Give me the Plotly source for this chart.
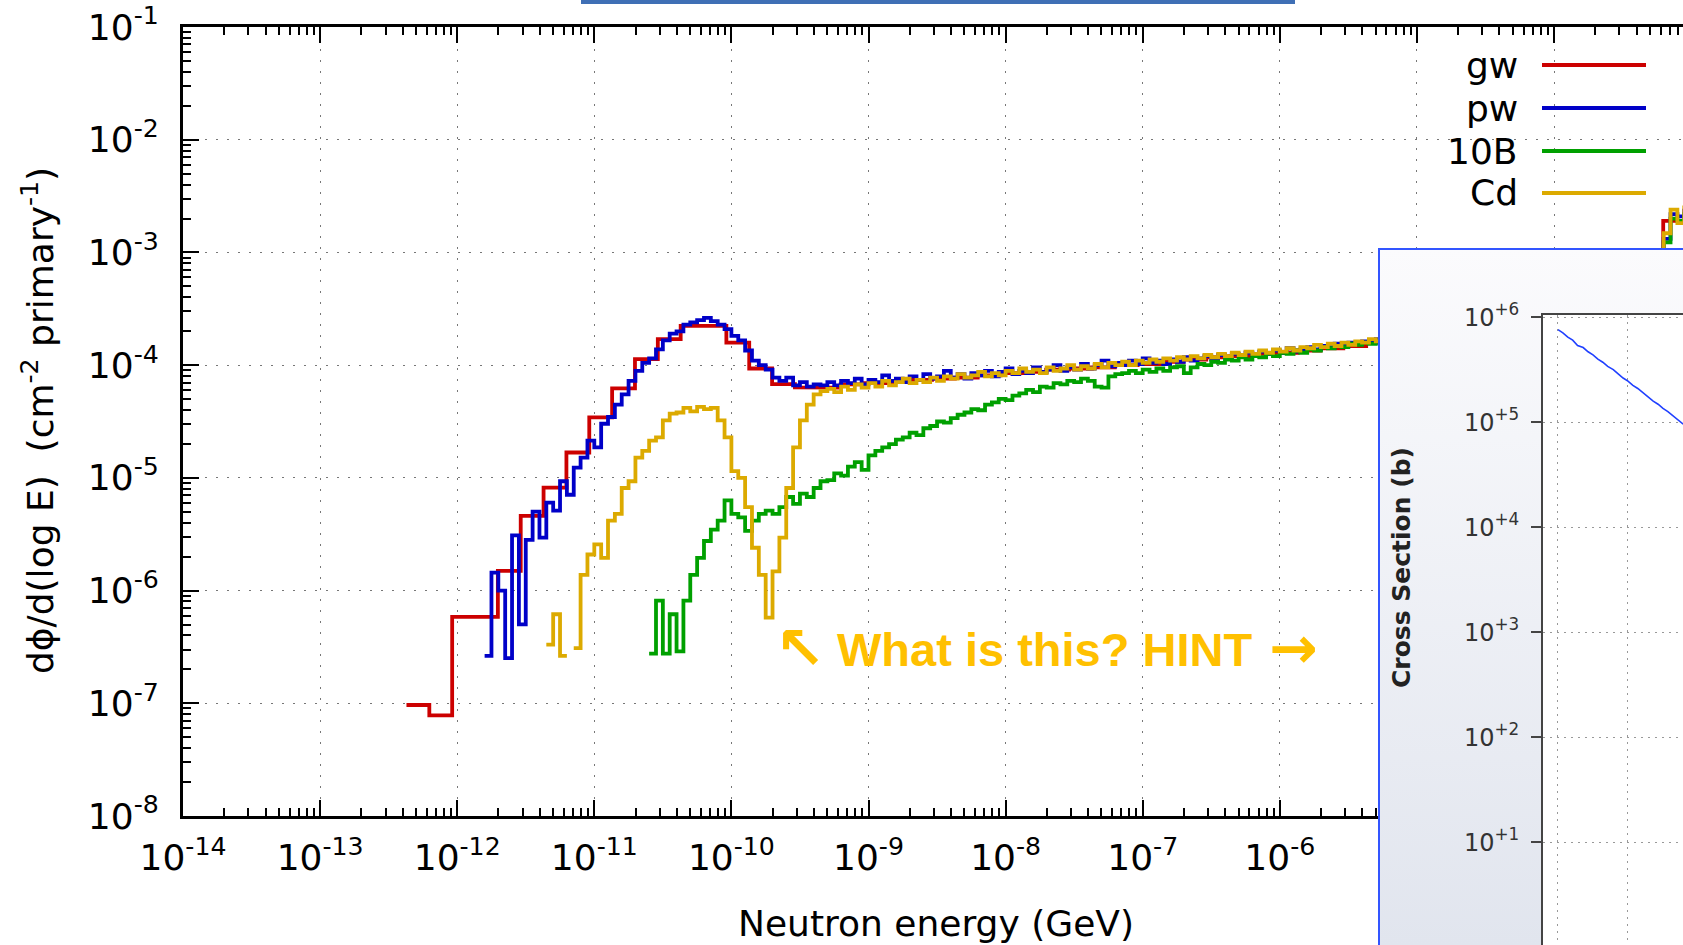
import plotly.graph_objects as go

W, H = 1683, 945


def px(x):
    return x / W


def py(y):
    return 1 - y / H


# ---------------- data (log10 of energy in GeV, log10 of flux) ----------------
bin_width = 0.05

# gw : coarse binning, 6 bins per decade
gw_start = -12.37
gw_step = 1 / 6
gw_vals = [
    -7.015, -7.107, -6.234, -6.234, -5.825, -5.337, -5.086, -4.775, -4.464, -4.207,
    -3.947, -3.769, -3.651, -3.651, -3.80, -4.03, -4.169, -4.198,
    -4.20, -4.17, -4.16, -4.15, -4.13, -4.12, -4.11, -4.09, -4.07, -4.06,
    -4.04, -4.03, -4.02, -4.00, -3.99, -3.97, -3.95, -3.93, -3.92, -3.90,
    -3.89, -3.87, -3.85, -3.83, -3.80, -3.78,
    -3.76, -3.73, -3.70, -3.66, -3.62, -3.57, -3.50, -3.40, -3.25, -3.10,
    -3.02, -2.72, -2.58,
]

# pw
pw_start = -11.80
pw_vals = [
    -6.58, -5.84, -6.00, -6.60, -5.51, -6.30, -5.55, -5.30, -5.53, -5.22,
    -5.29, -5.03, -5.15, -4.91, -4.82, -4.67, -4.73, -4.52, -4.46, -4.35,
    -4.26, -4.14, -4.05, -3.98, -3.94, -3.86, -3.78, -3.72, -3.70, -3.64,
    -3.62, -3.60, -3.58, -3.61, -3.64, -3.68, -3.74, -3.78, -3.87, -3.96,
    -4.00, -4.04, -4.11, -4.14, -4.11, -4.18, -4.15, -4.19, -4.17, -4.18,
    -4.15, -4.18, -4.14, -4.16, -4.12, -4.17, -4.13, -4.15, -4.09, -4.14,
    -4.12, -4.15, -4.10, -4.13, -4.08, -4.12, -4.10, -4.05, -4.11, -4.08,
    -4.12, -4.07, -4.09, -4.05, -4.10, -4.06, -4.03, -4.08, -4.05, -4.07,
    -4.02, -4.06, -4.04, -4.00, -4.05, -4.02, -4.04, -3.99, -4.03, -4.00,
    -3.96, -4.01, -3.98, -4.00, -3.96, -3.99, -3.94, -3.98, -3.96, -3.99,
    -3.95, -3.97, -3.93, -3.96, -3.94, -3.92, -3.95, -3.91, -3.93, -3.90,
    -3.92, -3.89, -3.91, -3.88, -3.90, -3.87, -3.89, -3.85, -3.88, -3.86,
    -3.84, -3.86, -3.83, -3.84, -3.81, -3.83, -3.80, -3.81, -3.79, -3.80,
    -3.77, -3.78, -3.76, -3.76, -3.75, -3.74, -3.74, -3.73, -3.72, -3.71,
    -3.70, -3.70, -3.69, -3.68, -3.67, -3.66, -3.65, -3.64, -3.63, -3.61,
    -3.60, -3.58, -3.56, -3.54, -3.52, -3.50, -3.47, -3.44, -3.41, -3.37,
    -3.33, -3.29, -3.24, -3.19, -3.14, -3.09, -3.06, -3.04, -3.03, -3.03,
    -3.04, -3.02, -2.88, -2.66, -2.68, -2.63,
]

# 10B
b10_start = -10.60
b10_vals = [
    -6.56, -6.09, -6.56, -6.21, -6.54, -6.09, -5.86, -5.71, -5.56, -5.46,
    -5.38, -5.20, -5.32, -5.35, -5.47, -5.38, -5.32, -5.29, -5.32, -5.26,
    -5.17, -5.23, -5.14, -5.17, -5.09, -5.03, -5.02, -4.96, -4.98, -4.90,
    -4.86, -4.93, -4.80, -4.76, -4.73, -4.70, -4.66, -4.64, -4.60, -4.62,
    -4.56, -4.54, -4.50, -4.51, -4.47, -4.44, -4.42, -4.39, -4.40, -4.35,
    -4.33, -4.30, -4.31, -4.27, -4.25, -4.22, -4.24, -4.19, -4.20, -4.16,
    -4.17, -4.14, -4.15, -4.12, -4.14, -4.19, -4.20, -4.10, -4.08, -4.07,
    -4.05, -4.07, -4.04, -4.06, -4.03, -4.05, -4.02, -4.01, -4.07, -4.02,
    -3.99, -4.00, -3.97, -3.98, -3.95, -3.96, -3.93, -3.95, -3.92, -3.93,
    -3.90, -3.92, -3.89, -3.90, -3.87, -3.89, -3.86, -3.87, -3.84, -3.85,
    -3.83, -3.84, -3.81, -3.82, -3.80, -3.81, -3.78, -3.79, -3.77, -3.78,
    -3.77, -3.76, -3.75, -3.75, -3.74, -3.73, -3.72, -3.71, -3.71, -3.70,
    -3.69, -3.68, -3.67, -3.66, -3.65, -3.63, -3.62, -3.60, -3.58, -3.56,
    -3.54, -3.52, -3.49, -3.46, -3.43, -3.39, -3.35, -3.31, -3.26, -3.21,
    -3.16, -3.11, -3.08, -3.06, -3.05, -3.05, -3.04, -3.06, -2.91, -2.70,
    -2.72, -2.66,
]

# Cd
cd_start = -11.35
cd_vals = [
    -6.48, -6.21, -6.58, None, -6.51, -5.86, -5.68, -5.59, -5.71, -5.38,
    -5.32, -5.09, -5.03, -4.82, -4.76, -4.67, -4.64, -4.49, -4.43, -4.42,
    -4.38, -4.41, -4.37, -4.39, -4.38, -4.49, -4.64, -4.94, -5.00, -5.26,
    -5.62, -5.86, -6.24, -5.83, -5.53, -5.09, -4.73, -4.49, -4.35, -4.26,
    -4.23, -4.21, -4.24, -4.19, -4.22, -4.17, -4.20, -4.16, -4.19, -4.14,
    -4.18, -4.15, -4.12, -4.16, -4.13, -4.15, -4.11, -4.14, -4.10, -4.12,
    -4.08, -4.11, -4.09, -4.06, -4.10, -4.07, -4.09, -4.05, -4.07, -4.03,
    -4.06, -4.04, -4.07, -4.02, -4.05, -4.03, -4.00, -4.04, -4.01, -4.03,
    -3.99, -4.02, -3.98, -4.00, -3.97, -4.00, -3.96, -3.98, -3.95, -3.97,
    -3.94, -3.96, -3.93, -3.95, -3.92, -3.94, -3.91, -3.93, -3.90, -3.92,
    -3.89, -3.91, -3.88, -3.90, -3.87, -3.89, -3.86, -3.88, -3.85, -3.87,
    -3.84, -3.85, -3.82, -3.84, -3.81, -3.83, -3.80, -3.82, -3.79, -3.80,
    -3.77, -3.79, -3.76, -3.77, -3.76, -3.75, -3.74, -3.74, -3.73, -3.72,
    -3.71, -3.70, -3.70, -3.69, -3.68, -3.67, -3.66, -3.65, -3.64, -3.63,
    -3.61, -3.60, -3.58, -3.56, -3.54, -3.52, -3.50, -3.47, -3.44, -3.41,
    -3.37, -3.33, -3.29, -3.24, -3.19, -3.14, -3.09, -3.06, -3.04, -3.03,
    -3.04, -3.03, -3.02, -2.83, -2.62, -2.74, -2.60,
]

# inset: cross section (log10 E [eV], log10 sigma [b])
xs_logE = [-5.00, -4.93, -4.86, -4.79, -4.72, -4.64, -4.57, -4.50, -4.43, -4.36,
           -4.29, -4.21, -4.14, -4.07, -4.00, -3.93, -3.86, -3.79, -3.71, -3.64,
           -3.57, -3.50, -3.43, -3.36, -3.29, -3.21]
xs_logS = [5.88, 5.85, 5.81, 5.78, 5.73, 5.71, 5.67, 5.64, 5.60, 5.57,
           5.53, 5.50, 5.46, 5.42, 5.39, 5.35, 5.32, 5.28, 5.24, 5.20,
           5.17, 5.13, 5.10, 5.06, 5.02, 4.98]

x_tick_exp = list(range(-14, -2))
y_tick_exp = list(range(-8, 0))
inset_y_exp = list(range(0, 7))

series = [
    ("gw", gw_start, gw_step, gw_vals, "#cc0000"),
    ("pw", pw_start, bin_width, pw_vals, "#0000c8"),
    ("10B", b10_start, bin_width, b10_vals, "#00a000"),
    ("Cd", cd_start, bin_width, cd_vals, "#dcaa00"),
]


def steps(start, step, vals):
    xs, ys = [], []
    for i, v in enumerate(vals):
        if v is None:
            xs.append(None)
            ys.append(None)
            continue
        e0 = start + i * step
        xs += [10 ** e0, 10 ** (e0 + step)]
        ys += [10 ** v, 10 ** v]
    return xs, ys


FONT = "DejaVu Sans"
fig = go.Figure()

for name, st, sp, vals, col in series:
    xx, yy = steps(st, sp, vals)
    fig.add_trace(go.Scatter(x=xx, y=yy, mode="lines", name=name,
                             line=dict(color=col, width=3.8),
                             connectgaps=False, showlegend=False,
                             hoverinfo="skip", xaxis="x", yaxis="y"))

# inset background (gradient panel)
fig.add_trace(go.Scatter(x=[0, 1, 1, 0, 0], y=[0, 0, 1, 1, 0], mode="lines",
                         fill="toself", line=dict(width=0, color="rgba(0,0,0,0)"),
                         fillgradient=dict(type="vertical",
                                           colorscale=[[0, "#e1e5ee"], [1, "#fbfbfd"]]),
                         showlegend=False, hoverinfo="skip",
                         xaxis="x2", yaxis="y2"))

# inset cross-section curve
fig.add_trace(go.Scatter(x=[10 ** v for v in xs_logE], y=[10 ** v for v in xs_logS],
                         mode="lines", line=dict(color="#2040ff", width=1.6),
                         showlegend=False, hoverinfo="skip",
                         xaxis="x3", yaxis="y3"))

minor_x = [k * 10.0 ** n for n in range(-14, -3) for k in range(2, 10)]
minor_y = [k * 10.0 ** n for n in range(-8, -1) for k in range(2, 10)]

grid_style = dict(showgrid=True, gridcolor="#777777", gridwidth=1.2, griddash="2px,9px")

fig.update_layout(
    width=W, height=H,
    margin=dict(l=0, r=0, t=0, b=0, pad=0, autoexpand=False),
    paper_bgcolor="white", plot_bgcolor="white",
    showlegend=False,
    xaxis=dict(
        domain=[px(183), 1], type="log", range=[-14, -14 + 1500 / 137.1],
        anchor="y", automargin=False,
        showline=True, linewidth=3, linecolor="black", mirror="ticks",
        ticks="inside", ticklen=16, tickwidth=2, tickcolor="black",
        tickmode="array", tickvals=[10.0 ** e for e in x_tick_exp],
        ticktext=["10<sup>%d</sup>" % e for e in x_tick_exp],
        tickfont=dict(family=FONT, size=36, color="black"),
        ticklabelstandoff=8,
        minor=dict(ticks="inside", ticklen=8, tickwidth=2, tickcolor="black",
                   tickmode="array", tickvals=minor_x, showgrid=False),
        zeroline=False, **grid_style,
    ),
    yaxis=dict(
        domain=[py(816), py(27)], type="log", range=[-8, -1],
        anchor="x", automargin=False,
        showline=True, linewidth=3, linecolor="black", mirror=False,
        ticks="inside", ticklen=16, tickwidth=2, tickcolor="black",
        tickmode="array", tickvals=[10.0 ** e for e in y_tick_exp],
        ticktext=["10<sup>%d</sup>" % e for e in y_tick_exp],
        tickfont=dict(family=FONT, size=36, color="black"),
        ticklabelstandoff=14,
        minor=dict(ticks="inside", ticklen=8, tickwidth=2, tickcolor="black",
                   tickmode="array", tickvals=minor_y, showgrid=False),
        zeroline=False, **grid_style,
    ),
    xaxis2=dict(domain=[px(1379), 1], range=[0, 1], visible=False, anchor="y2",
                automargin=False, fixedrange=True),
    yaxis2=dict(domain=[0, py(249)], range=[0, 1], visible=False, anchor="x2",
                automargin=False, fixedrange=True),
    xaxis3=dict(
        domain=[px(1543), 1], type="log", range=[-5.214, -3.214], anchor="y3",
        automargin=False,
        showline=True, linewidth=2, linecolor="#444444", mirror=True,
        tickmode="array", tickvals=[1e-5, 1e-4, 1e-3], showticklabels=False,
        ticks="", zeroline=False,
        showgrid=True, gridcolor="#999999", gridwidth=1.2, griddash="2px,5px",
    ),
    yaxis3=dict(
        domain=[0, py(315)], type="log", range=[0.02, 6.02], anchor="x3",
        automargin=False,
        showline=True, linewidth=2, linecolor="#444444",
        ticks="outside", ticklen=10, tickwidth=2, tickcolor="#444444",
        tickmode="array", tickvals=[10.0 ** e for e in inset_y_exp],
        ticktext=[("10<sup>%s</sup>" % ("+%d" % e if e > 0 else "0")) for e in inset_y_exp],
        tickfont=dict(family=FONT, size=24, color="#333333"),
        ticklabelstandoff=7, zeroline=False,
        showgrid=True, gridcolor="#999999", gridwidth=1.2, griddash="2px,5px",
    ),
)

shapes = [
    # slide title underline
    dict(type="line", xref="paper", yref="paper", x0=px(581), x1=px(1295),
         y0=py(2), y1=py(2), line=dict(color="#3f6fb5", width=4), layer="above"),
    # inset border
    dict(type="rect", xref="paper", yref="paper", x0=px(1379), x1=1.01,
         y0=-0.01, y1=py(249), line=dict(color="#3355ff", width=2),
         fillcolor="rgba(0,0,0,0)", layer="above"),
]
annotations = []

legend_y = [65, 108, 151, 193]
for (name, st, sp, vals, col), ly in zip(series, legend_y):
    shapes.append(dict(type="line", xref="paper", yref="paper",
                       x0=px(1542), x1=px(1646), y0=py(ly), y1=py(ly),
                       line=dict(color=col, width=4), layer="above"))
    annotations.append(dict(text=name, xref="paper", yref="paper",
                            x=px(1520), y=py(ly), xanchor="right", yanchor="middle",
                            showarrow=False,
                            font=dict(family=FONT, size=36, color="black")))

HINT = "#ffc000"
annotations += [
    dict(text="Neutron energy (GeV)", xref="paper", yref="paper",
         x=px(936), y=py(923), xanchor="center", yanchor="middle", showarrow=False,
         font=dict(family=FONT, size=36, color="black")),
    dict(text="d\u03d5/d(log E)\u00a0\u00a0(cm<sup>-2</sup> primary<sup>-1</sup>)",
         xref="paper", yref="paper", x=px(38), y=py(421), textangle=-90,
         xanchor="center", yanchor="middle", showarrow=False,
         font=dict(family=FONT, size=36, color="black")),
    dict(text="<b>\u2196</b>", xref="paper", yref="paper",
         x=px(800), y=py(648), xanchor="center", yanchor="middle", showarrow=False,
         font=dict(family=FONT, size=60, color=HINT)),
    dict(text="<b>What is this? HINT</b>", xref="paper", yref="paper",
         x=px(1044), y=py(649), xanchor="center", yanchor="middle", showarrow=False,
         font=dict(family="Liberation Sans", size=47, color=HINT)),
    dict(text="<b>\u2192</b>", xref="paper", yref="paper",
         x=px(1293), y=py(648), xanchor="center", yanchor="middle", showarrow=False,
         font=dict(family=FONT, size=58, color=HINT)),
    dict(text="<b>Cross Section (b)</b>", xref="paper", yref="paper",
         x=px(1401), y=py(568), textangle=-90, xanchor="center", yanchor="middle",
         showarrow=False, font=dict(family=FONT, size=25, color="#222222")),
]

fig.update_layout(shapes=shapes, annotations=annotations)
fig.write_html(
    "out.html",
    config={"displayModeBar": False},
    post_script="document.body.style.margin='0px';document.body.style.overflow='hidden';",
)
